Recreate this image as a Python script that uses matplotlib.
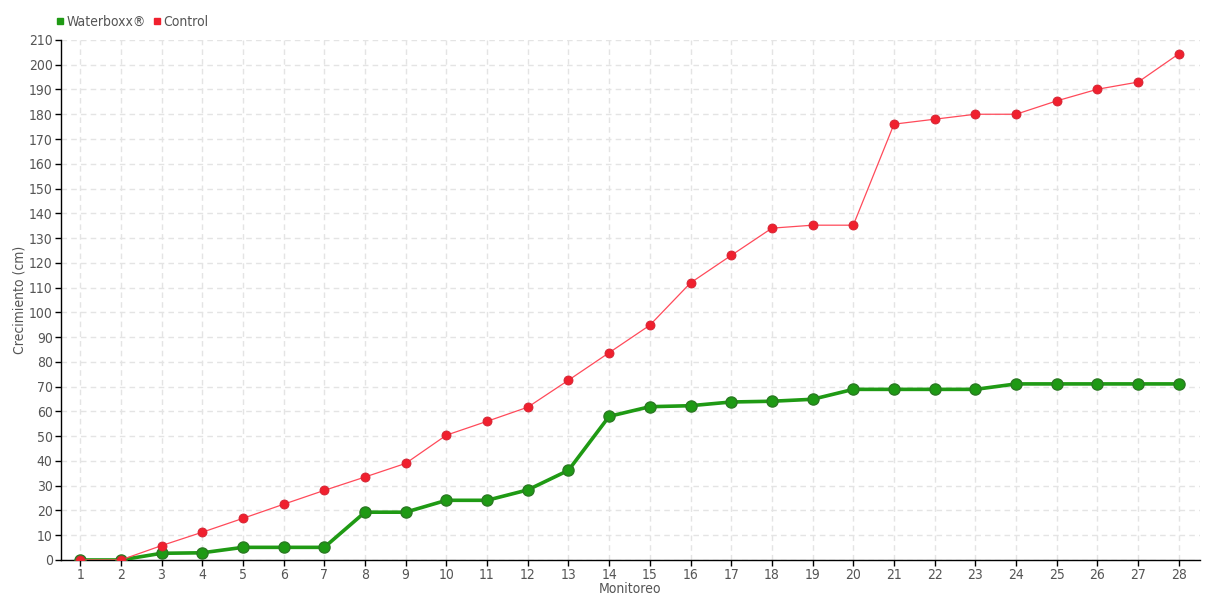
import matplotlib
matplotlib.use("Agg")
import matplotlib.pyplot as plt
from matplotlib.lines import Line2D

plt.rcParams['font.family'] = ['DejaVu Sans']
plt.rcParams['font.stretch'] = 'condensed'

monitoreo = list(range(1, 29))
waterboxx = [0, 0, 2.7, 2.9, 5.1, 5.1, 5.1, 19.3, 19.3, 24.1, 24.1, 28.3, 36.2, 58,
             61.9, 62.3, 63.8, 64.1, 64.9, 68.9, 68.9, 68.9, 68.9, 71.1, 71.1, 71.1, 71.1, 71.1]
control = [0, 0, 5.8, 11.2, 16.8, 22.5, 28.1, 33.5, 39, 50.4, 56, 61.7, 72.6, 83.7,
           94.8, 111.9, 123, 134, 135.2, 135.2, 176, 178, 180, 180, 185.4, 190.1, 193, 204.4]
y_ticks = list(range(0, 211, 10))

green = '#1f9a14'
red = '#f0202e'
txt = '#555555'

fig = plt.figure(figsize=(12.2, 6), dpi=100)
ax = fig.add_axes([0.05, 0.0667, 0.9336, 0.8667])

ax.plot(monitoreo, waterboxx, color='#8ad67c', lw=1.5, zorder=2)
ax.plot(monitoreo, waterboxx, color=green, lw=2.6, marker='o', ms=8,
        markerfacecolor='#1e9a14', markeredgecolor='#2a7a22', markeredgewidth=1, zorder=3)
ax.plot(monitoreo, control, color='#ff4a5a', lw=0.9, marker='o', ms=6.5,
        markerfacecolor=red, markeredgecolor='#d02434', markeredgewidth=0.6, zorder=4)

ax.set_xlim(0.53, 28.52)
ax.set_ylim(0, 210)
ax.set_xticks(monitoreo)
ax.set_yticks(y_ticks)
ax.grid(True, color='#e4e4e4', linestyle=(0, (4, 3)), lw=1)
ax.set_axisbelow(True)
for s in ['top', 'right']:
    ax.spines[s].set_visible(False)
for s in ['left', 'bottom']:
    ax.spines[s].set_color('black')
    ax.spines[s].set_linewidth(1)
ax.tick_params(axis='both', colors='black', labelcolor=txt, labelsize=10, length=4, width=1, pad=2)

ax.set_xlabel('Monitoreo', color=txt, fontsize=10)
ax.set_ylabel('Crecimiento (cm)', color=txt, fontsize=10)
ax.xaxis.set_label_coords(0.4996, -0.042)
ax.yaxis.set_label_coords(-0.030, 0.5)

handles = [Line2D([], [], ls='none', marker='s', ms=4.5, color=green),
           Line2D([], [], ls='none', marker='s', ms=4.5, color=red)]
fig.legend(handles, ['Waterboxx®', 'Control'], loc='center left', bbox_to_anchor=(0.035, 0.963),
           ncol=2, frameon=False, fontsize=10, labelcolor=txt, handletextpad=0.1,
           columnspacing=0.5, handlelength=0.7)

fig.savefig('out.png', dpi=100)
